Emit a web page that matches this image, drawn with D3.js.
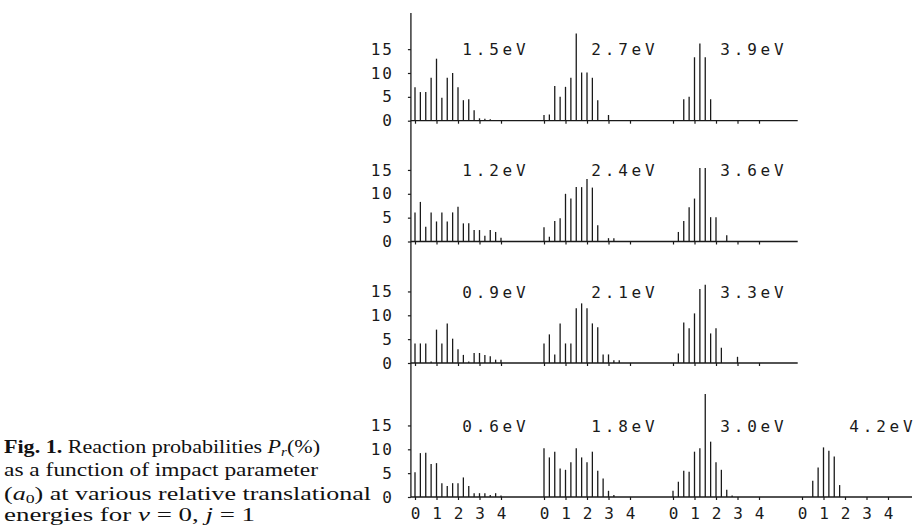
<!DOCTYPE html>
<html>
<head>
<meta charset="utf-8">
<script src="https://cdn.jsdelivr.net/npm/d3@7"></script>
<style>
    body { margin: 0; background: #fff; }
    svg { display: block; }
</style>
</head>
<body>
<div id="chart"></div>
<script>
// impact parameter grid (a0) shared by every panel
const impactParams = [0, 0.25, 0.5, 0.75, 1, 1.25, 1.5, 1.75, 2, 2.25, 2.5, 2.75, 3, 3.25, 3.5, 3.75, 4]
const yTicks = [0, 5, 10, 15]
const xTicks = [0, 1, 2, 3, 4]
const energyLabels = [
    ['1.5eV', '2.7eV', '3.9eV'],
    ['1.2eV', '2.4eV', '3.6eV'],
    ['0.9eV', '2.1eV', '3.3eV'],
    ['0.6eV', '1.8eV', '3.0eV', '4.2eV']
]

// reaction probabilities Pr(%), one per impactParams entry
const prob15 = [7.0, 6.0, 6.0, 9.0, 13.0, 4.8, 9.0, 10.0, 7.0, 4.3, 4.5, 2.2, 0.5, 0.4, 0.3, 0, 0]
const prob27 = [1.2, 1.3, 7.3, 5.0, 7.1, 9.0, 18.3, 10.1, 10.1, 9.0, 4.3, 0, 1.2, 0, 0, 0, 0]
const prob39 = [0, 0, 4.5, 5.0, 13.3, 16.2, 13.3, 4.5, 0, 0, 0, 0, 0, 0, 0, 0, 0]
const prob12 = [6.1, 8.3, 3.1, 6.1, 4.2, 6.1, 4.2, 6.1, 7.3, 3.8, 3.8, 2.4, 2.4, 1.2, 2.4, 2.0, 0.8]
const prob24 = [3.0, 1.0, 4.3, 4.9, 10.0, 9.0, 11.4, 11.4, 13.1, 11.3, 3.4, 0, 0.7, 0.7, 0, 0, 0]
const prob36 = [0, 2.0, 4.3, 7.2, 9.0, 15.4, 15.4, 5.1, 5.1, 0, 1.3, 0, 0, 0, 0, 0, 0]
const prob09 = [4.1, 4.1, 4.1, 0.3, 7.0, 4.1, 8.3, 5.1, 2.9, 1.7, 0.3, 2.1, 2.1, 1.7, 1.4, 0.7, 0.7]
const prob21 = [4.1, 6.0, 1.8, 8.3, 4.1, 4.1, 11.5, 12.5, 11.5, 8.3, 7.5, 1.8, 1.8, 0.6, 0.6, 0, 0]
const prob33 = [0, 2.0, 8.5, 7.3, 10.4, 15.5, 16.4, 6.2, 7.3, 3.2, 0, 0, 1.3, 0, 0, 0, 0]
const prob06 = [5.2, 9.2, 9.3, 6.9, 7.1, 2.9, 2.3, 2.9, 2.9, 4.1, 2.3, 0.8, 0.8, 0.8, 0.4, 0.8, 0.3]
const prob18 = [10.2, 8.3, 9.5, 6.0, 5.7, 7.3, 10.2, 8.3, 7.3, 9.5, 5.5, 3.9, 1.3, 0.4, 0, 0, 0]
const prob30 = [1.3, 3.2, 5.5, 5.3, 9.5, 10.2, 21.6, 11.6, 7.3, 5.7, 1.5, 0.3, 0, 0, 0, 0, 0]
const prob42 = [0, 0, 3.4, 6.2, 10.4, 9.7, 8.5, 2.5, 0, 0, 0, 0, 0, 0, 0, 0, 0]

const rows = [
    [prob15, prob27, prob39],
    [prob12, prob24, prob36],
    [prob09, prob21, prob33],
    [prob06, prob18, prob30, prob42]
]

document.addEventListener('DOMContentLoaded', () => draw())

function draw() {
    const width = 918
    const height = 525
    const groupShift = 6          // each energy panel sits 6 a0 further right
    const rowBase = [120.7, 241.5, 363, 497]
    const pxPerUnit = 4.77
    const axisX = -0.19
    const monoFont = '"DejaVu Sans Mono", monospace'
    const ink = '#1a1a1a'

    const svg = d3.select('#chart')
        .append('svg')
        .attr('width', width)
        .attr('height', height)
        .attr('viewBox', [0, 0, width, height])

    const x = d3.scaleLinear()
        .domain([0, 24])
        .range([415, 415 + 24 * 21.5])
    const yRows = rowBase.map(b => d3.scaleLinear()
        .domain([0, 15])
        .range([b, b - 15 * pxPerUnit]))

    // the long vertical axis through all four rows
    svg.append('line')
        .attr('x1', x(axisX)).attr('x2', x(axisX))
        .attr('y1', yRows[0](22.6)).attr('y2', rowBase[3])
        .attr('stroke', ink)
        .attr('stroke-width', 1.3)

    rows.forEach((panels, r) => {
        const y = yRows[r]
        const last = r === rows.length - 1
        const row = svg.append('g').attr('class', 'row')

        // y ticks
        const yAxis = row.append('g')
            .attr('transform', `translate(${x(axisX)}, 0)`)
            .call(d3.axisLeft(y).tickValues(yTicks).tickSize(3).tickPadding(14))
        yAxis.select('.domain').remove()
        yAxis.selectAll('line').attr('stroke', ink).attr('stroke-width', 1.2)
        yAxis.selectAll('text')
            .attr('font-family', monoFont)
            .attr('font-size', 16)
            .attr('letter-spacing', 2)
            .attr('fill', ink)

        // baseline
        row.append('line')
            .attr('x1', x(axisX))
            .attr('x2', last ? 912 : x(17.8))
            .attr('y1', y(0)).attr('y2', y(0))
            .attr('stroke', ink)
            .attr('stroke-width', 1.3)

        // x ticks at every integer a0 of each panel
        const tickVals = []
        panels.forEach((p, g) => xTicks.forEach(t => tickVals.push(g * groupShift + t)))
        const xAxis = row.append('g')
            .attr('transform', `translate(0, ${y(0)})`)
            .call(d3.axisBottom(x).tickValues(tickVals).tickSize(3).tickPadding(8)
                .tickFormat(d => last ? d3.format('d')(d % groupShift) : ''))
        xAxis.select('.domain').remove()
        xAxis.selectAll('line').attr('stroke', ink).attr('stroke-width', 1.2)
        xAxis.selectAll('text')
            .attr('font-family', monoFont)
            .attr('font-size', 16)
            .attr('fill', ink)

        // stick bars
        panels.forEach((values, g) => {
            const sticks = impactParams
                .map((b, i) => ({ b: b + g * groupShift, p: values[i] }))
                .filter(d => d.p > 0)
            row.append('g')
                .selectAll('line')
                .data(sticks)
                .enter()
                .append('line')
                .attr('x1', d => x(d.b)).attr('x2', d => x(d.b))
                .attr('y1', y(0))
                .attr('y2', d => y(d.p))
                .attr('stroke', ink)
                .attr('stroke-width', 1.3)

            row.append('text')
                .attr('x', x(g * groupShift + 2.2))
                .attr('y', y(13.7))
                .attr('font-family', monoFont)
                .attr('font-size', 16)
                .attr('letter-spacing', 3.8)
                .attr('fill', ink)
                .text(energyLabels[r][g])
        })
    })

    // caption, each line stretched to the width it has in the scan
    const caption = svg.append('g')
        .attr('transform', 'translate(4, 0)')
        .attr('font-family', '"Liberation Serif", "Times New Roman", serif')
        .attr('font-size', 19)
        .attr('fill', '#111')
    const captionLine = (y, len) => caption.append('text')
        .attr('y', y)
        .attr('textLength', len)
        .attr('lengthAdjust', 'spacingAndGlyphs')

    const l1 = captionLine(453, 316)
    l1.append('tspan').attr('font-weight', 'bold').text('Fig. 1.')
    l1.append('tspan').text(' Reaction probabilities ')
    l1.append('tspan').attr('font-style', 'italic').text('P')
    l1.append('tspan').attr('font-style', 'italic').attr('font-size', 13).attr('dy', 3).text('r')
    l1.append('tspan').attr('dy', -3).text('(%)')

    captionLine(476, 314).text('as a function of impact parameter')

    const l3 = captionLine(499.5, 367)
    l3.append('tspan').text('(')
    l3.append('tspan').attr('font-style', 'italic').text('a')
    l3.append('tspan').attr('font-size', 13).attr('dy', 3).text('0')
    l3.append('tspan').attr('dy', -3).text(') at various relative translational')

    const l4 = captionLine(521, 251)
    l4.append('tspan').text('energies for ')
    l4.append('tspan').attr('font-style', 'italic').text('v')
    l4.append('tspan').text(' = 0, ')
    l4.append('tspan').attr('font-style', 'italic').text('j')
    l4.append('tspan').text(' = 1')
}
</script>
</body>
</html>
